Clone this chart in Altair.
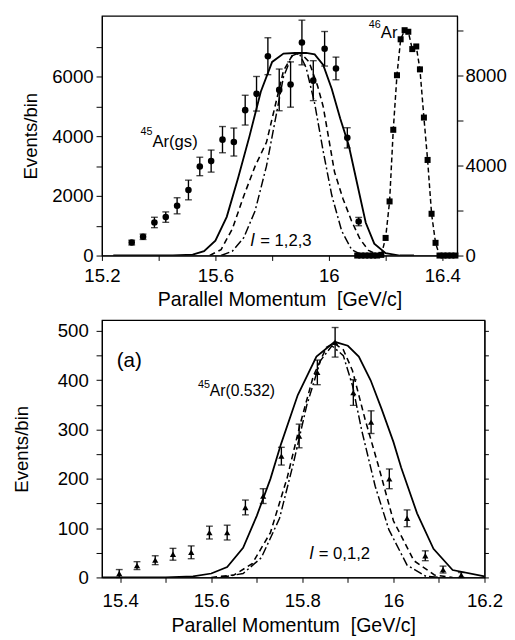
import altair as alt
import pandas as pd

FONT = "Liberation Sans"

# ---------------- Top panel: 45Ar(gs) (left axis) ----------------
gs_x = [15.305, 15.345, 15.385, 15.425, 15.465, 15.505, 15.545, 15.585, 15.625, 15.665,
        15.705, 15.745, 15.785, 15.825, 15.865, 15.905, 15.945, 15.985, 16.025, 16.065, 16.105]
gs_y = [435, 630, 1110, 1290, 1670, 2200, 2990, 3170, 3890, 3810,
        4880, 5430, 6690, 5560, 5740, 7150, 5870, 6940, 6280, 3950, 1140]
gs_err = [80, 90, 175, 175, 270, 330, 310, 370, 440, 470,
          500, 580, 620, 700, 760, 750, 670, 580, 380, 340, 140]

# theory curves, l = 1,2,3
top_solid_x = [15.24, 15.45, 15.52, 15.56, 15.60, 15.64, 15.68, 15.72, 15.76, 15.80, 15.84, 15.88,
               15.92, 15.95, 15.98, 16.01, 16.04, 16.07, 16.10, 16.13, 16.16, 16.20, 16.25, 16.30]
top_solid_y = [0, 0, 30, 150, 500, 1300, 2600, 4000, 5500, 6500, 6780, 6800,
               6800, 6750, 6400, 5600, 4600, 3700, 2400, 1100, 400, 80, 0, 0]
top_dash_x = [15.58, 15.62, 15.66, 15.70, 15.74, 15.78, 15.81, 15.84, 15.87, 15.90, 15.93,
              15.96, 15.98, 16.00, 16.02, 16.05, 16.08, 16.11, 16.14, 16.18]
top_dash_y = [0, 200, 900, 2000, 3000, 3800, 5000, 6200, 6700, 6800, 6500,
              5700, 5000, 3900, 2800, 1900, 1160, 550, 170, 0]
top_dd_x = [15.62, 15.66, 15.70, 15.74, 15.78, 15.81, 15.84, 15.87, 15.895, 15.92, 15.95,
            15.98, 16.01, 16.045, 16.08, 16.12]
top_dd_y = [0, 150, 600, 1500, 3000, 4500, 6000, 6700, 6800, 6300, 5100,
            3500, 2030, 830, 200, 0]

# ---------------- Top panel: 46Ar (right axis) ----------------
ar46_x = [16.100, 16.114, 16.128, 16.142, 16.156, 16.170, 16.185, 16.200, 16.214, 16.227,
          16.240, 16.253, 16.267, 16.280, 16.294, 16.308, 16.321, 16.335, 16.348, 16.362,
          16.376, 16.390, 16.404, 16.418, 16.432, 16.446]
ar46_y = [0, 0, 0, 0, 0, 0, 30, 784, 2410, 5600,
          8030, 9630, 10035, 9965, 9194, 9311, 8290, 6144, 4257, 1860,
          566, 0, 0, 0, 0, 0]

# ---------------- Bottom panel: 45Ar(0.532) ----------------
b_x = [15.398, 15.437, 15.477, 15.516, 15.556, 15.596, 15.635, 15.675, 15.714, 15.754,
       15.793, 15.833, 15.872, 15.912, 15.951, 15.991, 16.030, 16.070, 16.109, 16.149]
b_y = [8, 24, 35, 47, 51, 91, 91, 142, 165, 246,
       287, 416, 477, 375, 315, 200, 120, 44, 16, 5]
b_err = [8, 8, 9, 12, 13, 13, 15, 15, 15, 18,
         24, 25, 30, 26, 23, 20, 17, 10, 7, 5]

bot_solid_x = [15.36, 15.50, 15.56, 15.60, 15.635, 15.67, 15.70, 15.73, 15.753, 15.79, 15.831,
               15.871, 15.90, 15.924, 15.95, 15.974, 16.00, 16.017, 16.052, 16.088, 16.13, 16.20]
bot_solid_y = [0, 0, 2, 8, 21, 60, 125, 200, 270, 370, 448,
               478, 470, 448, 400, 342, 275, 223, 130, 58, 15, 2]
bot_dash_x = [15.60, 15.65, 15.69, 15.73, 15.767, 15.795, 15.824, 15.853, 15.87, 15.89,
              15.91, 15.938, 15.966, 16.00, 16.045, 16.09, 16.13]
bot_dash_y = [0, 5, 28, 91, 203, 310, 408, 467, 475, 462,
              420, 320, 230, 115, 34, 5, 0]
bot_dd_x = [15.62, 15.67, 15.71, 15.75, 15.78, 15.81, 15.84, 15.865, 15.89, 15.91,
            15.93, 15.96, 15.99, 16.03, 16.07, 16.10]
bot_dd_y = [0, 8, 40, 120, 230, 350, 440, 470, 450, 390,
            300, 185, 97, 25, 3, 0]

XTITLE = "Parallel Momentum\u00a0\u00a0[GeV/c]"


def curve(xs, ys, xsc, ysc, dash=None, width=1.6):
    df = pd.DataFrame({"x": xs, "y": ys})
    kw = dict(color="black", strokeWidth=width, clip=True)
    if dash:
        kw["strokeDash"] = dash
    return alt.Chart(df).mark_line(**kw).encode(
        x=alt.X("x:Q", scale=xsc), y=alt.Y("y:Q", scale=ysc))


def errpoints(xs, ys, es, xsc, ysc, shape, size):
    df = pd.DataFrame({"x": xs, "y": ys, "e": es})
    base = alt.Chart(df).transform_calculate(
        lo="datum.y - datum.e", hi="datum.y + datum.e")
    rule = base.mark_rule(color="black", strokeWidth=1.4).encode(
        x=alt.X("x:Q", scale=xsc), y=alt.Y("lo:Q", scale=ysc), y2="hi:Q")
    cap1 = base.mark_tick(color="black", orient="horizontal", size=7, thickness=1.4).encode(
        x=alt.X("x:Q", scale=xsc), y=alt.Y("lo:Q", scale=ysc))
    cap2 = base.mark_tick(color="black", orient="horizontal", size=7, thickness=1.4).encode(
        x=alt.X("x:Q", scale=xsc), y=alt.Y("hi:Q", scale=ysc))
    pts = base.mark_point(shape=shape, filled=True, color="black", size=size, opacity=1).encode(
        x=alt.X("x:Q", scale=xsc), y=alt.Y("y:Q", scale=ysc))
    return [rule, cap1, cap2, pts]


def label(x, y, text, xsc, ysc, size=17, align="left", style="normal", base="middle"):
    df = pd.DataFrame({"x": [x], "y": [y], "t": [text]})
    return alt.Chart(df).mark_text(font=FONT, fontSize=size, align=align, baseline=base,
                                   fontStyle=style, color="black").encode(
        x=alt.X("x:Q", scale=xsc), y=alt.Y("y:Q", scale=ysc), text="t:N")


# ---------------- Top chart ----------------
txs = alt.Scale(domain=[15.2, 16.452], nice=False, zero=False)
tys = alt.Scale(domain=[0, 8046], nice=False)
tyr = alt.Scale(domain=[0, 10675], nice=False)

top_x_axis = alt.Axis(values=[15.2, 15.4, 15.6, 15.8, 16.0, 16.2, 16.4], format="~g",
                      labelExpr="round(datum.value*10) % 4 == 0 ? datum.label : ''",
                      title=XTITLE, tickSize=5, labelPadding=7, titlePadding=4,
                      labelFlush=False, labelOverlap=False)
top_y_axis = alt.Axis(values=[0, 1000, 2000, 3000, 4000, 5000, 6000, 7000],
                      labelExpr="datum.value % 2000 == 0 ? datum.label : ''",
                      format="d", title="Events/bin", tickSize=6, labelPadding=3,
                      titlePadding=12, labelFlush=False, labelOverlap=False,
                      titleFontSize=19)
top_r_axis = alt.Axis(values=[0, 2000, 4000, 6000, 8000, 10000], orient="right",
                      labelExpr="datum.value % 4000 == 0 ? datum.label : ''",
                      format="d", title=None, tickSize=6, labelPadding=2,
                      labelFlush=False, labelOverlap=False)

tl_layers = [
    curve(top_solid_x, top_solid_y, txs, tys, None, 1.9),
    curve(top_dash_x, top_dash_y, txs, tys, [6, 4], 1.6),
    curve(top_dd_x, top_dd_y, txs, tys, [9, 3, 2, 3], 1.5),
] + errpoints(gs_x, gs_y, gs_err, txs, tys, "circle", 45) + [
    label(15.378, 4150, "45", txs, tys, size=11, align="right"),
    label(15.378, 3800, "Ar(gs)", txs, tys, size=17),
    label(16.183, 7750, "46", txs, tys, size=11, align="right"),
    label(16.183, 7450, "Ar", txs, tys, size=17),
    label(15.731, 480, "l", txs, tys, size=18, align="center", style="italic"),
    label(15.758, 480, "= 1,2,3", txs, tys, size=17),
]
tl = alt.layer(*tl_layers).encode(
    x=alt.X("x:Q", scale=txs, axis=top_x_axis),
    y=alt.Y("y:Q", scale=tys, axis=top_y_axis))

ar_df = pd.DataFrame({"x": ar46_x, "y": ar46_y})
tr_line = alt.Chart(ar_df).mark_line(color="black", strokeWidth=1.5, strokeDash=[5, 3]).encode(
    x=alt.X("x:Q", scale=txs), y=alt.Y("y:Q", scale=tyr, axis=top_r_axis))
tr_pts = alt.Chart(ar_df).mark_point(shape="square", filled=True, color="black", size=38,
                                     opacity=1).encode(
    x=alt.X("x:Q", scale=txs), y=alt.Y("y:Q", scale=tyr, axis=top_r_axis))
tr = alt.layer(tr_line, tr_pts)

top = alt.layer(tl, tr).resolve_scale(y="independent").properties(width=363, height=245)

# ---------------- Bottom chart ----------------
bxs = alt.Scale(domain=[15.36, 16.2], nice=False, zero=False)
bys = alt.Scale(domain=[0, 522], nice=False)

bvals = [round(15.4 + 0.05 * i, 2) for i in range(17)]
bot_x_axis = alt.Axis(values=bvals, format="~g",
                      labelExpr="round(datum.value*20) % 4 == 0 ? datum.label : ''",
                      title=XTITLE, tickSize=5, labelPadding=10, titlePadding=5,
                      labelFlush=False, labelOverlap=False)
bot_y_axis = alt.Axis(values=list(range(0, 501, 50)),
                      labelExpr="datum.value % 100 == 0 ? datum.label : ''",
                      title="Events/bin", tickSize=6, labelPadding=8, titlePadding=26,
                      labelFlush=False, labelOverlap=False, titleFontSize=19)
bot_r_axis = alt.Axis(values=list(range(0, 501, 50)), orient="right", labels=False,
                      title=None, tickSize=4)

bl_layers = [
    curve(bot_solid_x, bot_solid_y, bxs, bys, None, 1.8),
    curve(bot_dash_x, bot_dash_y, bxs, bys, [6, 4], 1.6),
    curve(bot_dd_x, bot_dd_y, bxs, bys, [9, 3, 2, 3], 1.5),
] + errpoints(b_x, b_y, b_err, bxs, bys, "triangle-up", 40) + [
    label(15.42, 438, "(a)", bxs, bys, size=21, align="center"),
    label(15.597, 391, "45", bxs, bys, size=11, align="right"),
    label(15.597, 379, "Ar(0.532)", bxs, bys, size=16),
    label(15.82, 48, "l", bxs, bys, size=18, align="center", style="italic"),
    label(15.836, 48, "= 0,1,2", bxs, bys, size=17),
]
bl = alt.layer(*bl_layers).encode(
    x=alt.X("x:Q", scale=bxs, axis=bot_x_axis),
    y=alt.Y("y:Q", scale=bys, axis=bot_y_axis))
br = alt.Chart(pd.DataFrame({"x": [15.4], "y": [0]})).mark_point(opacity=0).encode(
    x=alt.X("x:Q", scale=bxs), y=alt.Y("y:Q", scale=bys, axis=bot_r_axis))
bottom = alt.layer(bl, br).resolve_scale(y="shared").resolve_axis(y="independent").properties(
    width=391, height=263)

chart = alt.vconcat(top, bottom, spacing=9).properties(
    padding={"left": 4, "top": 0, "right": 0, "bottom": 0}
).configure_view(stroke="black", strokeWidth=1.2).configure_axis(
    labelFont=FONT, titleFont=FONT, labelFontSize=19, titleFontSize=20,
    titleFontWeight="normal", labelColor="black", titleColor="black",
    domainColor="black", tickColor="black", grid=False, domainWidth=1.2
)

chart.save("out.html", embed_options={"renderer": "svg", "actions": False})
